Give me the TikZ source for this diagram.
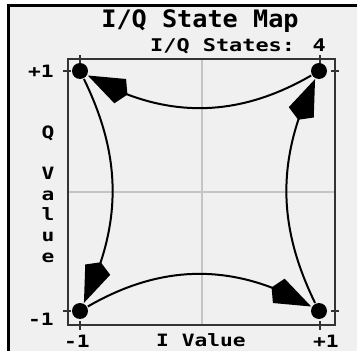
\documentclass[tikz,border=0pt]{standalone}
\usepackage{fontspec}
\newfontfamily\lcdfont[FakeStretch=1.25]{DejaVu Sans Mono}
\newfontfamily\lcdtitle[FakeStretch=1.05]{DejaVu Sans Mono}
\usetikzlibrary{arrows.meta, bending}
\definecolor{screen}{HTML}{F0F0F0}
\definecolor{gridgray}{HTML}{C4C4C4}
\definecolor{boxgray}{HTML}{333333}

\begin{document}
\begin{tikzpicture}[x=1pt, y=-1pt, >={Kite[length=44pt, width=27pt, inset=8pt]}, line width=2pt]
        \useasboundingbox (0,0) rectangle (357,351);
        % 화면 배경과 테두리
        \fill[screen] (8,5) rectangle (357,351);
        \draw[line width=2.4pt] (8.3,351) -- (8.3,5.5) -- (357,5.5);

        % 격자와 상자
        \draw[gridgray] (202,59) -- (202,325);
        \draw[gridgray] (68,192) -- (335,192);
        \draw[boxgray, line width=1.5pt] (68,59) rectangle (335,325);

        % 눈금
        \draw[boxgray, line width=1.5pt] (80,55) -- (80,64) (320,55) -- (320,64);
        \draw[boxgray, line width=1.5pt] (80,321) -- (80,330) (320,321) -- (320,330);
        \draw[boxgray, line width=1.5pt] (63,71) -- (71,71) (331,71) -- (339,71);
        \draw[boxgray, line width=1.5pt] (63,311) -- (71,311) (331,311) -- (339,311);

        % 제목과 축 이름
        \node[font=\lcdtitle\bfseries\fontsize{24}{24}\selectfont, inner sep=0pt] (title) at (200,21) {I/Q State Map};
        \node[font=\lcdfont\bfseries\fontsize{17.5}{17.5}\selectfont, inner sep=0pt] (states) at (238,46.5) {I/Q States: 4};
        \node[font=\lcdfont\bfseries\fontsize{17}{17}\selectfont, inner sep=0pt] (ilab) at (201,340) {I Value};
        \node[font=\lcdfont\bfseries\fontsize{17}{20.7}\selectfont, inner sep=0pt, align=center] (qlab) at (48,194) {Q\\ \\V\\a\\l\\u\\e};

        % 눈금 값
        \node[font=\lcdfont\bfseries\fontsize{17}{17}\selectfont, inner sep=0pt] (qp) at (41,71) {+1};
        \node[font=\lcdfont\bfseries\fontsize{17}{17}\selectfont, inner sep=0pt] (qm) at (41,319) {-1};
        \node[font=\lcdfont\bfseries\fontsize{17}{17}\selectfont, inner sep=0pt] (im) at (77,341) {-1};
        \node[font=\lcdfont\bfseries\fontsize{17}{17}\selectfont, inner sep=0pt] (ip) at (326,341) {+1};

        % 상태 점
        \node[circle, fill, minimum size=16pt, inner sep=0pt] (s1) at (80,71) {};
        \node[circle, fill, minimum size=16pt, inner sep=0pt] (s2) at (319,71) {};
        \node[circle, fill, minimum size=16pt, inner sep=0pt] (s3) at (80,311) {};
        \node[circle, fill, minimum size=16pt, inner sep=0pt] (s4) at (319,311) {};

        % 상태 전이 화살표
        \draw[->] (s2) to[bend left=30] (s1);
        \draw[->] (s1) to[bend left=26] (s3);
        \draw[->] (s3) to[bend left=30] (s4);
        \draw[->] (s4) to[bend left=26] (s2);

    \end{tikzpicture}
\end{document}
